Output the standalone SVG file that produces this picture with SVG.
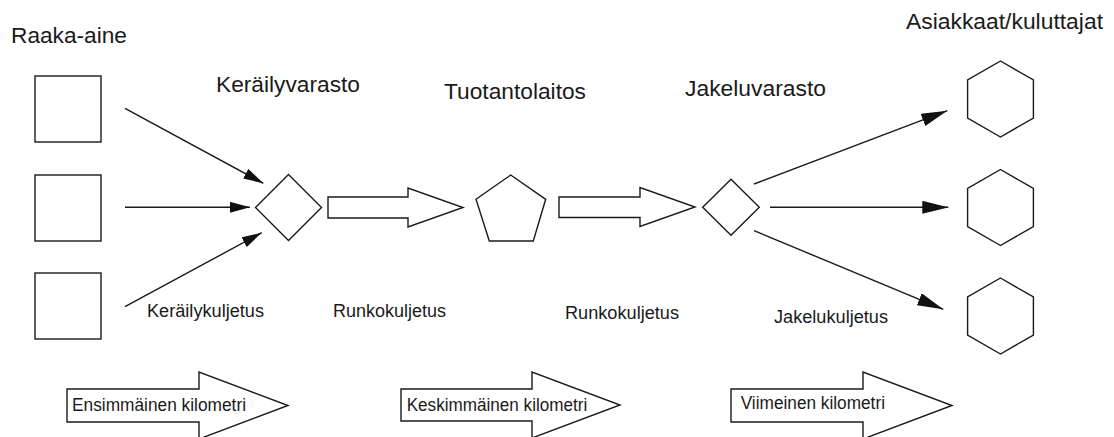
<svg xmlns="http://www.w3.org/2000/svg" width="1114" height="437" viewBox="0 0 1114 437">
<style>
.s{fill:#fff;stroke:#1a1a1a;stroke-width:1.4}
.l{fill:none;stroke:#1a1a1a;stroke-width:1.4}
.t{font-family:"Liberation Sans",Arial,sans-serif;fill:#1a1a1a}
.big{font-size:21.5px}
.sm{font-size:17.5px}
</style>
<defs>
<marker id="ah" markerUnits="userSpaceOnUse" markerWidth="20" markerHeight="11" refX="20" refY="5.5" orient="auto"><path d="M0,0 L20,5.5 L0,11 z" fill="#111"/></marker>
<marker id="ahb" markerUnits="userSpaceOnUse" markerWidth="26" markerHeight="13" refX="26" refY="6.5" orient="auto"><path d="M0,0 L26,6.5 L0,13 z" fill="#111"/></marker>
</defs>
<rect width="1114" height="437" fill="#fff"/>
<g id="raaka-aine">
<text class="t big" x="11" y="43" textLength="116" lengthAdjust="spacingAndGlyphs">Raaka-aine</text>
<rect class="s" x="35" y="76" width="66" height="66"/>
<rect class="s" x="35" y="175" width="66" height="66"/>
<rect class="s" x="35" y="273" width="66" height="66"/>
</g>
<g id="kerailyvarasto">
<text class="t big" x="216" y="92" textLength="144" lengthAdjust="spacingAndGlyphs">Keräilyvarasto</text>
<polygon class="s" points="288.5,174.5 321.5,207.5 288.5,240.5 255.5,207.5"/>
</g>
<g id="tuotantolaitos">
<text class="t big" x="444" y="99" textLength="142" lengthAdjust="spacingAndGlyphs">Tuotantolaitos</text>
<polygon class="s" points="510.7,175 545.7,199.3 533.3,241 489.3,241 476,199.3"/>
</g>
<g id="jakeluvarasto">
<text class="t big" x="685" y="96" textLength="141" lengthAdjust="spacingAndGlyphs">Jakeluvarasto</text>
<polygon class="s" points="731,179.3 759.3,207.3 731,235.3 702.7,207.3"/>
</g>
<g id="asiakkaat">
<text class="t big" x="906" y="29" textLength="197" lengthAdjust="spacingAndGlyphs">Asiakkaat/kuluttajat</text>
<polygon class="s" points="1000.5,61 1033.4,80 1033.4,118 1000.5,137 967.6,118 967.6,80"/>
<polygon class="s" points="1000.5,169.5 1033.4,188.5 1033.4,226.5 1000.5,245.5 967.6,226.5 967.6,188.5"/>
<polygon class="s" points="1000.5,278 1033.4,297 1033.4,335 1000.5,354 967.6,335 967.6,297"/>
</g>
<g id="connectors">
<line class="l" x1="125" y1="108.3" x2="263.3" y2="183.3" marker-end="url(#ah)"/>
<line class="l" x1="125" y1="207.3" x2="250" y2="207.3" marker-end="url(#ah)"/>
<line class="l" x1="125" y1="306.7" x2="261.7" y2="232.7" marker-end="url(#ah)"/>
<polygon class="s" points="328,197 408,197 408,188 463,207.5 408,227 408,218 328,218"/>
<polygon class="s" points="559,197 640,197 640,187.5 695,207 640,226.5 640,217.5 559,217.5"/>
<line class="l" x1="754" y1="184" x2="947.3" y2="110.7" marker-end="url(#ahb)"/>
<line class="l" x1="770" y1="207.3" x2="948.3" y2="207.3" marker-end="url(#ahb)"/>
<line class="l" x1="754" y1="230.7" x2="943.3" y2="309.3" marker-end="url(#ahb)"/>
</g>
<g id="labels">
<text class="t sm" x="147" y="317" textLength="117" lengthAdjust="spacingAndGlyphs">Keräilykuljetus</text>
<text class="t sm" x="333" y="317" textLength="113" lengthAdjust="spacingAndGlyphs">Runkokuljetus</text>
<text class="t sm" x="565" y="318.5" textLength="114" lengthAdjust="spacingAndGlyphs">Runkokuljetus</text>
<text class="t sm" x="774" y="322.5" textLength="114" lengthAdjust="spacingAndGlyphs">Jakelukuljetus</text>
</g>
<g id="ensimmainen">
<polygon class="s" points="67,389 199,389 199,372 288,405.5 199,439 199,422 67,422"/>
<text class="t sm" x="72" y="411" textLength="174" lengthAdjust="spacingAndGlyphs">Ensimmäinen kilometri</text>
</g>
<g id="keskimmainen">
<polygon class="s" points="401,389 532,389 532,372 620,405 532,438 532,421 401,421"/>
<text class="t sm" x="406.7" y="411" textLength="180.6" lengthAdjust="spacingAndGlyphs">Keskimmäinen kilometri</text>
</g>
<g id="viimeinen">
<polygon class="s" points="731,389 863,389 863,372 952,405.5 863,439 863,422 731,422"/>
<text class="t sm" x="740.7" y="408.5" textLength="144.3" lengthAdjust="spacingAndGlyphs">Viimeinen kilometri</text>
</g>
</svg>
